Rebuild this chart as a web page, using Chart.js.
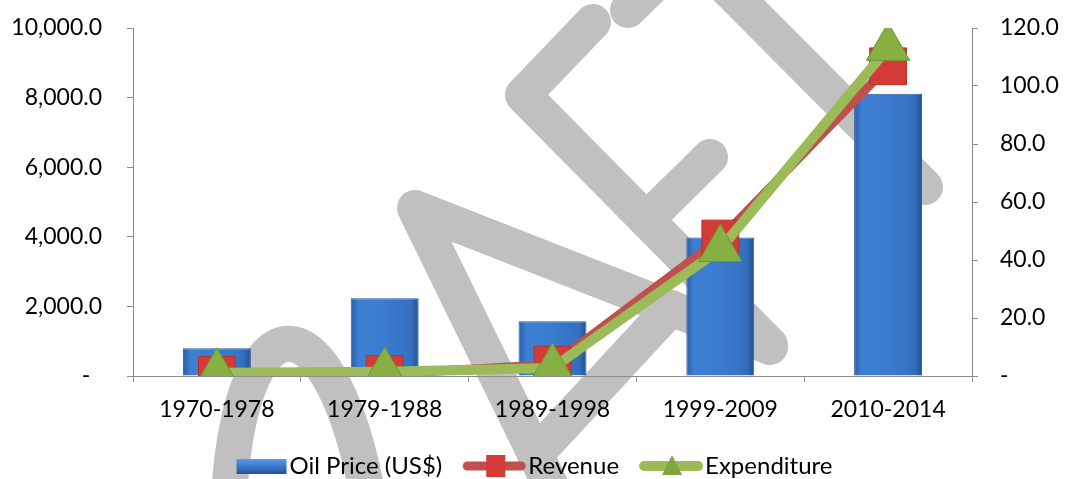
<!DOCTYPE html>
<html>
<head>
<meta charset="utf-8">
<script src="https://cdn.jsdelivr.net/npm/chart.js@4"></script>
<style>
  html, body { margin: 0; padding: 0; background: #fff; }
  #wrap { width: 1066px; height: 479px; position: relative; }
</style>
</head>
<body>
<div id="wrap"><canvas id="chart" width="1066" height="479"></canvas></div>
<script>
// data
const periods = ['1970-1978', '1979-1988', '1989-1998', '1999-2009', '2010-2014'];
const oilPrice = [9.6, 26.8, 18.9, 47.8, 97.3];        // right axis, US$
const revenue = [30, 60, 330, 3950, 8900];             // left axis
const expenditure = [90, 120, 230, 3650, 9430];        // left axis
const seriesNames = ['Oil Price (US$)', 'Revenue', 'Expenditure'];

const FONT = 'Lato, "Open Sans", sans-serif';
const axisGray = '#8c8c8c';

// small canvases used as legend symbols
function symbol(kind) {
  const c = document.createElement('canvas');
  c.width = 72; c.height = 26;
  const g = c.getContext('2d');
  if (kind === 'bar') {
    const gr = g.createLinearGradient(0, 6, 0, 20);
    gr.addColorStop(0, '#5b9be6');
    gr.addColorStop(0.5, '#3a7bd0');
    gr.addColorStop(1, '#24579e');
    g.fillStyle = gr;
    g.fillRect(17, 6, 50, 15);
  } else if (kind === 'rev') {
    g.strokeStyle = '#c0504d'; g.lineWidth = 9; g.lineCap = 'round';
    g.beginPath(); g.moveTo(9, 13); g.lineTo(63, 13); g.stroke();
    g.fillStyle = '#d43a36';
    g.fillRect(28, 2, 19, 22);
  } else {
    g.strokeStyle = '#9bbb59'; g.lineWidth = 10; g.lineCap = 'round';
    g.beginPath(); g.moveTo(9, 13); g.lineTo(63, 13); g.stroke();
    g.fillStyle = '#7fa53f';
    g.beginPath(); g.moveTo(37, 2); g.lineTo(47, 22); g.lineTo(27, 22); g.closePath(); g.fill();
  }
  return c;
}
const legendSymbols = [symbol('bar'), symbol('rev'), symbol('exp')];

// grey "DRAFT" watermark strokes, drawn behind the chart
const watermarkStrokes = [
  [[688, -51], [925, 187]],                 // T stem
  [[628, 10], [760, -120]],                 // T bar
  [[593, 22], [523, 95], [770, 345]],       // F top arm + stem
  [[647, 219], [710, 157]],                 // F middle arm
  [[582, 550], [415, 208], [770, 347]],     // A legs
  [[535, 455], [671, 308]]                  // A bar
];
const watermark = {
  id: 'watermark',
  beforeDraw(chart) {
    const ctx = chart.ctx;
    ctx.save();
    ctx.strokeStyle = '#c0c0c0';
    ctx.lineWidth = 36;
    ctx.lineCap = 'round';
    ctx.lineJoin = 'round';
    watermarkStrokes.forEach(pts => {
      ctx.beginPath();
      ctx.moveTo(pts[0][0], pts[0][1]);
      pts.slice(1).forEach(p => ctx.lineTo(p[0], p[1]));
      ctx.stroke();
    });
    // bowl of the R
    ctx.beginPath();
    ctx.moveTo(228, 520);
    ctx.bezierCurveTo(235, 285, 335, 285, 372, 520);
    ctx.stroke();
    ctx.restore();
  }
};

function barFill(context) {
  const chart = context.chart;
  const xs = chart.scales.x;
  if (!xs || !chart.chartArea) return '#3a7bcf';
  const cx = xs.getPixelForValue(context.dataIndex);
  const gr = chart.ctx.createLinearGradient(cx - 34, 0, cx + 34, 0);
  gr.addColorStop(0, '#2a5fa6');
  gr.addColorStop(0.12, '#3d80d3');
  gr.addColorStop(0.5, '#3a7bcd');
  gr.addColorStop(0.88, '#3470c0');
  gr.addColorStop(1, '#22508f');
  return gr;
}

// fixed width for the side axes, and no extra top/bottom reserve for their labels
function sideAxis(width) {
  return s => { s.width = width; s.paddingTop = 12; s.paddingBottom = 12; };
}

new Chart(document.getElementById('chart'), {
  type: 'bar',
  data: {
    labels: periods,
    datasets: [
      {
        label: seriesNames[0],
        data: oilPrice,
        yAxisID: 'y1',
        backgroundColor: barFill,
        borderColor: '#2a5a9c',
        borderWidth: 1,
        barPercentage: 0.405,
        categoryPercentage: 1,
        order: 3
      },
      {
        label: seriesNames[1],
        type: 'line',
        data: revenue,
        yAxisID: 'y',
        borderColor: '#c0504d',
        borderWidth: 9,
        pointStyle: 'rect',
        pointRadius: 26,
        pointBackgroundColor: '#d43a36',
        pointBorderColor: '#b8312e',
        pointBorderWidth: 1,
        order: 2
      },
      {
        label: seriesNames[2],
        type: 'line',
        data: expenditure,
        yAxisID: 'y',
        borderColor: '#9bbb59',
        borderWidth: 10,
        pointStyle: 'triangle',
        pointRadius: 25,
        pointBackgroundColor: '#86b042',
        pointBorderColor: '#6e9435',
        pointBorderWidth: 1,
        order: 1
      }
    ]
  },
  options: {
    responsive: false,
    animation: false,
    devicePixelRatio: 1,
    layout: { autoPadding: false, padding: { top: 28, right: 0, bottom: -9, left: 0 } },
    plugins: {
      tooltip: { enabled: false },
      legend: {
        position: 'bottom',
        labels: {
          usePointStyle: true,
          pointStyleWidth: 44,
          boxHeight: 24,
          padding: 30,
          color: '#000',
          font: { family: FONT, size: 24 },
          generateLabels: () => seriesNames.map((n, i) => ({
            text: n, pointStyle: legendSymbols[i], datasetIndex: i,
            hidden: false, lineWidth: 0, fontColor: '#000'
          }))
        }
      }
    },
    scales: {
      x: {
        offset: true,
        afterFit(s) { s.height = 48; },
        grid: { offset: true, drawOnChartArea: false, drawTicks: true, tickLength: 6, color: axisGray },
        border: { color: axisGray },
        ticks: { color: '#000', padding: 14, font: { family: FONT, size: 23 }, maxRotation: 0 }
      },
      y: {
        position: 'left',
        min: 0, max: 10000,
        afterFit: sideAxis(133),
        grid: { drawOnChartArea: false, tickLength: 6, color: axisGray },
        border: { color: axisGray },
        ticks: {
          stepSize: 2000, padding: 25, color: '#000',
          font: { family: FONT, size: 23 },
          callback: v => v === 0 ? '-  ' : v.toLocaleString('en-US', { minimumFractionDigits: 1, maximumFractionDigits: 1 })
        }
      },
      y1: {
        position: 'right',
        min: 0, max: 120,
        afterFit: sideAxis(94),
        grid: { drawOnChartArea: false, tickLength: 6, color: axisGray },
        border: { color: axisGray },
        ticks: {
          stepSize: 20, padding: 22, color: '#000',
          font: { family: FONT, size: 23 },
          callback: v => v === 0 ? '-' : v.toFixed(1)
        }
      }
    }
  },
  plugins: [watermark]
});
</script>
</body>
</html>
